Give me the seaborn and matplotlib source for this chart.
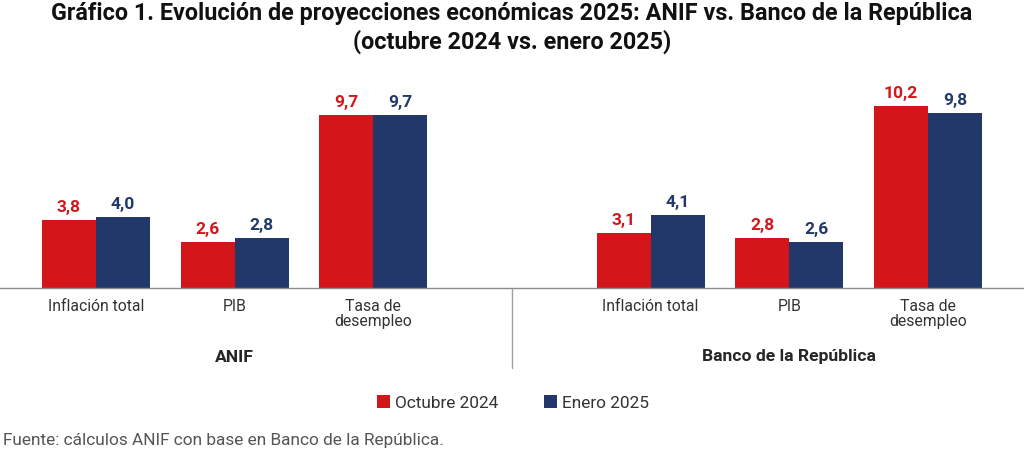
import matplotlib
matplotlib.use("Agg")
import matplotlib.pyplot as plt
import matplotlib.transforms as mtransforms
from matplotlib.patches import Patch
import seaborn as sns
import pandas as pd

# ---- data ----
groups = ["ANIF", "Banco de la República"]
categories = ["Inflación total", "PIB", "Tasa de\ndesempleo"]
series = ["Octubre 2024", "Enero 2025"]
anif_oct = [3.8, 2.6, 9.7]
anif_ene = [4.0, 2.8, 9.7]
br_oct = [3.1, 2.8, 10.2]
br_ene = [4.1, 2.6, 9.8]
title = "Gráfico 1. Evolución de proyecciones económicas 2025: ANIF vs. Banco de la República\n(octubre 2024 vs. enero 2025)"
source = "Fuente: cálculos ANIF con base en Banco de la República."

RED = "#D4161B"
NAVY = "#22386A"
palette = {series[0]: RED, series[1]: NAVY}

sns.set_theme(style="white")
plt.rcParams["font.family"] = ["Roboto", "DejaVu Sans"]

rows = []
values = {groups[0]: (anif_oct, anif_ene), groups[1]: (br_oct, br_ene)}
for gi, g in enumerate(groups):
    for ci, c in enumerate(categories):
        pos = gi * (len(categories) + 1) + ci
        for si, s in enumerate(series):
            rows.append({"pos": pos, "cat": c, "group": g, "serie": s,
                         "value": values[g][si][ci]})
df = pd.DataFrame(rows)

fig = plt.figure(figsize=(10.24, 4.51), dpi=100)
ax = fig.add_axes([0, 163 / 451, 1, (288 - 70) / 451])

sns.barplot(data=df, x="pos", y="value", hue="serie", hue_order=series,
            palette=palette, native_scale=True, width=0.78, dodge=True,
            linewidth=0, saturation=1, legend=False, ax=ax)

px_per_unit = 138.67
ax.set_xlim(-96 / px_per_unit, (1024 - 96) / px_per_unit)
ax.set_ylim(0, 218 / 17.85)

for container, s in zip(ax.containers, series):
    col = palette[s]
    for bar in container:
        h = bar.get_height()
        ax.annotate(f"{h:.1f}".replace(".", ","),
                    (bar.get_x() + bar.get_width() / 2, h),
                    xytext=(0, 3.5), textcoords="offset points",
                    ha="center", va="bottom", color=col,
                    fontsize=12.5, fontweight="bold")

for sp in ["top", "right", "left"]:
    ax.spines[sp].set_visible(False)
ax.spines["bottom"].set_color("#8c8c8c")
ax.spines["bottom"].set_linewidth(1.0)
ax.set_yticks([])
ax.set_xlabel("")
ax.set_ylabel("")

tick_pos = sorted(df["pos"].unique())
tick_labels = [df[df["pos"] == p]["cat"].iloc[0] for p in tick_pos]
ax.set_xticks(tick_pos)
ax.set_xticklabels(tick_labels, fontsize=11.3, color="#333333",
                   linespacing=0.95)
ax.tick_params(axis="x", length=0, pad=8)

# group labels and divider
blend = mtransforms.blended_transform_factory(ax.transData, fig.transFigure)
for gi, g in enumerate(groups):
    center = gi * (len(categories) + 1) + (len(categories) - 1) / 2
    ax.text(center, 1 - 357 / 451, g, transform=blend, ha="center",
            va="center", fontsize=12.6, fontweight="bold", color="#262626")
div_x = len(categories)
ax.plot([div_x, div_x], [1 - 288 / 451, 1 - 368 / 451], transform=blend,
        color="#a0a0a0", lw=1.0, clip_on=False)

# title
fig.text(0.5, 1 - 28 / 451, title, ha="center", va="center",
         fontsize=16.8, fontweight="bold", color="#111111",
         linespacing=1.2)

# legend
handles = [Patch(facecolor=palette[s], edgecolor="none", label=s) for s in series]
fig.legend(handles=handles, loc="center", bbox_to_anchor=(0.501, 1 - 403 / 451),
           ncol=2, frameon=False, fontsize=12.4, handlelength=0.75,
           handleheight=0.75, handletextpad=0.25, columnspacing=2.7,
           labelcolor="#333333")

fig.text(3 / 1024, 1 - 440 / 451, source, ha="left", va="center",
         fontsize=12.4, color="#555555", fontweight="normal")

fig.savefig("out.png", dpi=100)
